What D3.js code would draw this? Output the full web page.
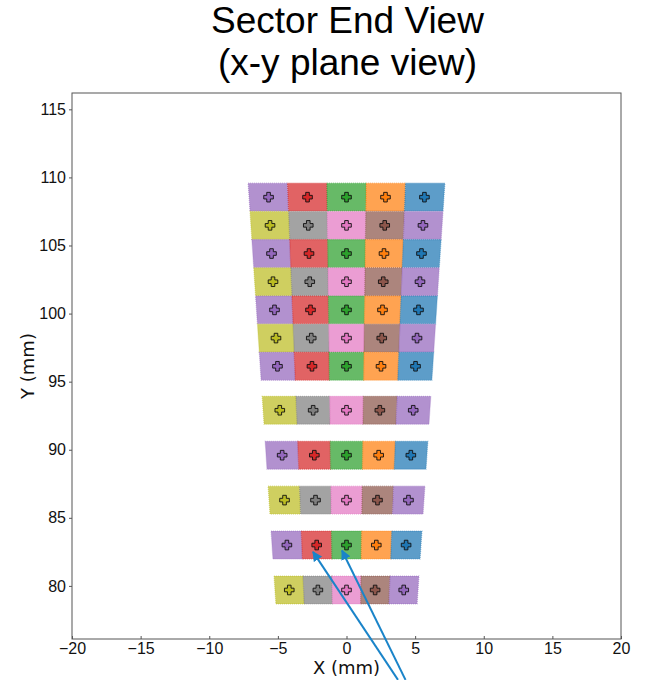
<!DOCTYPE html>
<html lang="en">
  <head>
    <meta charset="utf-8">
    <title>Sector End View</title>
    <script src="https://d3js.org/d3.v7.min.js"></script>
    <style>
      body { margin: 0; background: white; }
    </style>
  </head>
  <body>
    <div id="my_dataviz"></div>
    <script>

// row centres (mm), top block then the spaced-out lower block
var rowY = [108.55, 106.48, 104.41, 102.34, 100.27, 98.2, 96.13, 92.9, 89.6, 86.3, 83.0, 79.7];
// which colour set each row uses
var rowSet = ["A", "B", "A", "B", "A", "B", "A", "B", "A", "B", "A", "B"];
// colours left to right
var setA = ["#9467bd", "#d62728", "#2ca02c", "#ff7f0e", "#1f77b4"];
var setB = ["#bcbd22", "#7f7f7f", "#e377c2", "#8c564b", "#9467bd"];
var cellsPerRow = 5;
var rowHeight = 2.05;        // mm
var halfWidthPerY = 0.0654;  // sector half-width / y

// annotation arrows: [tailX, tailY, tipX, tipY] in mm
var arrows = [
  [3.75, 73.1, -2.44, 82.5],
  [4.3, 73.1, -0.33, 82.6]
];

var xTicks = [-20, -15, -10, -5, 0, 5, 10, 15, 20];
var yTicks = [80, 85, 90, 95, 100, 105, 110, 115];

var W = 646, H = 680;
var margin = {top: 93, right: 25, bottom: 41, left: 72};

var svg = d3.select("#my_dataviz")
  .append("svg")
    .attr("width", W)
    .attr("height", H)
    .style("font-family", "'DejaVu Sans', sans-serif");

var x = d3.scaleLinear().domain([-20, 20]).range([margin.left, W - margin.right]);
var y = d3.scaleLinear().domain([76.1, 116.2]).range([H - margin.bottom, margin.top]);

// title
svg.append("text")
  .attr("x", (x(-20) + x(20)) / 2)
  .attr("text-anchor", "middle")
  .style("font-family", "'Liberation Sans', Arial, sans-serif")
  .style("font-size", "37px")
  .selectAll("tspan")
  .data(["Sector End View", "(x-y plane view)"])
  .enter()
  .append("tspan")
    .attr("x", (x(-20) + x(20)) / 2 + 1)
    .attr("y", function(d, i) { return 33 + i * 42; })
    .text(function(d) { return d; });

// build cells
var cells = [];
rowY.forEach(function(yc, r) {
  var cols = rowSet[r] == "A" ? setA : setB;
  var y0 = yc - rowHeight / 2, y1 = yc + rowHeight / 2;
  for (var i = 0; i < cellsPerRow; i++) {
    var f0 = -1 + 2 * i / cellsPerRow, f1 = -1 + 2 * (i + 1) / cellsPerRow;
    cells.push({
      color: cols[i],
      pts: [[f0 * halfWidthPerY * y1, y1], [f1 * halfWidthPerY * y1, y1],
            [f1 * halfWidthPerY * y0, y0], [f0 * halfWidthPerY * y0, y0]],
      cx: (f0 + f1) / 2 * halfWidthPerY * yc,
      cy: yc
    });
  }
});

var cellG = svg.append("g");
cellG.selectAll("path.cell")
  .data(cells)
  .enter()
  .append("path")
    .attr("class", "cell")
    .attr("d", function(d) {
      return "M" + d.pts.map(function(p) { return x(p[0]) + "," + y(p[1]); }).join("L") + "Z";
    })
    .style("fill", function(d) { return d.color; })
    .style("fill-opacity", 0.72)
    .style("stroke", function(d) { return d.color; })
    .style("stroke-opacity", 0.5)
    .style("stroke-width", 1.2)
    .style("stroke-dasharray", "1,1");

// plus markers at cell centres
var a = 1.8, b = 4.8;
var plus = "M" + [[-a, -b], [a, -b], [a, -a], [b, -a], [b, a], [a, a], [a, b], [-a, b], [-a, a], [-b, a], [-b, -a], [-a, -a]]
  .map(function(p) { return p[0] + "," + p[1]; }).join("L") + "Z";
cellG.selectAll("path.marker")
  .data(cells)
  .enter()
  .append("path")
    .attr("class", "marker")
    .attr("d", plus)
    .attr("transform", function(d) { return "translate(" + x(d.cx) + "," + y(d.cy) + ")"; })
    .style("fill", function(d) { return d.color; })
    .style("stroke", "#111")
    .style("stroke-width", 0.9);

// axes box
svg.append("rect")
  .attr("x", x(-20))
  .attr("y", y(116.2))
  .attr("width", x(20) - x(-20))
  .attr("height", y(76.1) - y(116.2))
  .style("fill", "none")
  .style("stroke", "#555")
  .style("stroke-width", 1);

// X axis
var xAxis = svg.append("g")
  .attr("transform", "translate(0," + y(76.1) + ")")
  .call(d3.axisBottom(x).tickValues(xTicks).tickSizeInner(-3).tickSizeOuter(0).tickPadding(4)
    .tickFormat(function(d) { return d < 0 ? "\u2212" + (-d) : d; }));
xAxis.select(".domain").remove();
xAxis.selectAll(".tick line").attr("stroke", "#555");
xAxis.selectAll("text").style("font-size", "16px").attr("fill", "#111");

// Y axis
var yAxis = svg.append("g")
  .attr("transform", "translate(" + x(-20) + ",0)")
  .call(d3.axisLeft(y).tickValues(yTicks).tickSizeInner(3).tickSizeOuter(0).tickPadding(3));
yAxis.select(".domain").remove();
yAxis.selectAll(".tick line").attr("stroke", "#555");
yAxis.selectAll("text").style("font-size", "16px").attr("fill", "#111");

// axis labels
svg.append("text")
  .attr("x", (x(-20) + x(20)) / 2)
  .attr("y", 674)
  .attr("text-anchor", "middle")
  .style("font-size", "18px")
  .attr("fill", "#111")
  .text("X (mm)");

svg.append("text")
  .attr("transform", "translate(34," + (y(76.1) + y(116.2)) / 2 + ") rotate(-90)")
  .attr("text-anchor", "middle")
  .style("font-size", "18px")
  .attr("fill", "#111")
  .text("Y (mm)");

// arrows
svg.append("defs").append("marker")
  .attr("id", "head")
  .attr("viewBox", "0 0 10 10")
  .attr("refX", 9)
  .attr("refY", 5)
  .attr("markerWidth", 5)
  .attr("markerHeight", 5)
  .attr("markerUnits", "strokeWidth")
  .attr("orient", "auto")
  .append("path")
    .attr("d", "M0,0L10,5L0,10Z")
    .style("fill", "#1a84c9");

svg.selectAll("line.arrow")
  .data(arrows)
  .enter()
  .append("line")
    .attr("class", "arrow")
    .attr("x1", function(d) { return x(d[0]); })
    .attr("y1", function(d) { return y(d[1]); })
    .attr("x2", function(d) { return x(d[2]); })
    .attr("y2", function(d) { return y(d[3]); })
    .style("stroke", "#1a84c9")
    .style("stroke-width", 2)
    .attr("marker-end", "url(#head)");

    </script>
  </body>
</html>
